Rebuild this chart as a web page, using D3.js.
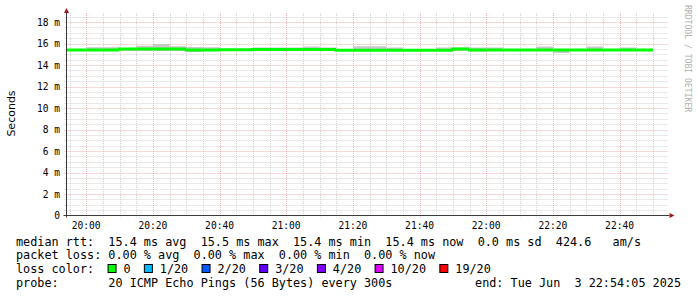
<!DOCTYPE html>
<html>
<head>
<meta charset="utf-8">
<script src="https://cdn.jsdelivr.net/npm/d3@7"></script>
<style>
  body { margin: 0; background: #fff; }
  svg { display: block; }
  text { white-space: pre; }
</style>
</head>
<body>
<svg id="chart"></svg>
<script>
// ---- data ----
const stepMinutes = 5;
const medianMs = [15.4, 15.4, 15.4, 15.4, 15.5, 15.5, 15.5, 15.5, 15.4, 15.4, 15.42, 15.42,
                  15.45, 15.45, 15.45, 15.45, 15.45, 15.38, 15.38, 15.38, 15.38, 15.38, 15.38, 15.38,
                  15.5, 15.4, 15.4, 15.4, 15.4, 15.4, 15.4, 15.4, 15.4, 15.4, 15.4, 15.4];
const smokeHiMs = [15.45, 15.45, 15.65, 15.65, 15.55, 15.8, 15.95, 15.75, 15.68, 15.65, 15.5, 15.5,
                   15.62, 15.62, 15.62, 15.72, 15.62, 15.45, 15.74, 15.74, 15.62, 15.45, 15.45, 15.62,
                   15.62, 15.62, 15.62, 15.45, 15.45, 15.72, 15.45, 15.45, 15.72, 15.45, 15.62, 15.45];
const smokeLoMs = [15.3, 15.3, 15.3, 15.3, 15.3, 15.3, 15.3, 15.3, 15.2, 15.3, 15.3, 15.3,
                   15.3, 15.3, 15.3, 15.3, 15.3, 15.3, 15.3, 15.3, 15.3, 15.3, 15.3, 15.3,
                   15.3, 15.25, 15.3, 15.3, 15.3, 15.3, 15.13, 15.3, 15.3, 15.3, 15.3, 15.3];
const lossCount = new Array(36).fill(0);

const yTicksMs = [0, 2, 4, 6, 8, 10, 12, 14, 16, 18];
const yTickLabels = ["0", "2 m", "4 m", "6 m", "8 m", "10 m", "12 m", "14 m", "16 m", "18 m"];
const xTickLabels = ["20:00", "20:20", "20:40", "21:00", "21:20", "21:40", "22:00", "22:20", "22:40"];

const lossLabels = ["0", "1/20", "2/20", "3/20", "4/20", "10/20", "19/20"];
const lossLevels = [0, 1, 2, 3, 4, 10, 19];
const lossColors = ["#00ff00", "#00b8ff", "#0059ff", "#5e00ff", "#7e00ff", "#dd00ff", "#ff0000"];

const legendLines = [
  "median rtt:  15.4 ms avg  15.5 ms max  15.4 ms min  15.4 ms now  0.0 ms sd  424.6   am/s",
  "packet loss: 0.00 % avg  0.00 % max  0.00 % min  0.00 % now",
  "loss color:",
  "probe:       20 ICMP Echo Pings (56 Bytes) every 300s"
];
const endLabel = "end: Tue Jun  3 22:54:05 2025";

// ---- layout ----
const width = 697, height = 297;
const plot = {left: 66.5, right: 666.5, top: 13, bottom: 215.5};
const mono = "'DejaVu Sans Mono', monospace";

const svg = d3.select("#chart").attr("width", width).attr("height", height);

const startTime = new Date(2025, 5, 3, 19, 54, 5);
const endTime = new Date(2025, 5, 3, 22, 54, 5);
const stepStarts = d3.timeMinute.every(stepMinutes).range(new Date(2025, 5, 3, 19, 50), new Date(2025, 5, 3, 22, 50));

const x = d3.scaleTime().domain([startTime, endTime]).range([plot.left, plot.right]);
const y = d3.scaleLinear().domain([0, 18.84]).range([plot.bottom, plot.top]);

// grid
const minorY = d3.range(0.5, 18.6, 0.5).filter(v => v % 2 !== 0);
const minorX = d3.timeMinute.every(5).range(startTime, endTime).filter(t => t.getMinutes() % 20 !== 0);
const majorX = d3.timeMinute.every(20).range(startTime, endTime);

const grid = svg.append("g").attr("stroke-dasharray", "1,1").attr("stroke-width", 1);
grid.selectAll(".hmin").data(minorY).enter().append("line")
  .attr("x1", plot.left - 2).attr("x2", plot.right + 2)
  .attr("y1", d => Math.round(y(d)) + 0.5).attr("y2", d => Math.round(y(d)) + 0.5)
  .attr("stroke", "#d2d2d2");
grid.selectAll(".vmin").data(minorX).enter().append("line")
  .attr("x1", d => Math.round(x(d)) + 0.5).attr("x2", d => Math.round(x(d)) + 0.5)
  .attr("y1", plot.top).attr("y2", plot.bottom + 2)
  .attr("stroke", "#d2d2d2");
grid.selectAll(".hmaj").data(yTicksMs.slice(1)).enter().append("line")
  .attr("x1", plot.left - 2).attr("x2", plot.right + 2)
  .attr("y1", d => Math.round(y(d)) + 0.5).attr("y2", d => Math.round(y(d)) + 0.5)
  .attr("stroke", "#eab4b4");
grid.selectAll(".vmaj").data(majorX).enter().append("line")
  .attr("x1", d => Math.round(x(d)) + 0.5).attr("x2", d => Math.round(x(d)) + 0.5)
  .attr("y1", plot.top).attr("y2", plot.bottom + 2)
  .attr("stroke", "#eab4b4");

// data points as steps
const steps = stepStarts.map((t, i) => ({
  t0: t, t1: d3.timeMinute.offset(t, stepMinutes),
  med: medianMs[i], hi: smokeHiMs[i], lo: smokeLoMs[i], loss: lossCount[i]
}));
const stepPts = steps.map(s => ({t: s.t0, hi: s.hi, lo: s.lo}));
stepPts.push({t: steps[steps.length - 1].t1, hi: smokeHiMs[steps.length - 1], lo: smokeLoMs[steps.length - 1]});

svg.append("clipPath").attr("id", "clip").append("rect")
  .attr("x", plot.left).attr("y", plot.top)
  .attr("width", plot.right - plot.left).attr("height", plot.bottom - plot.top);

const dataG = svg.append("g").attr("clip-path", "url(#clip)");

// smoke
const smoke = d3.area().curve(d3.curveStepAfter)
  .x(d => x(d.t)).y0(d => y(d.lo)).y1(d => y(d.hi));
dataG.append("path").datum(stepPts).attr("d", smoke).attr("fill", "#c8c8c8");

// median line, coloured by loss
const lossColor = d3.scaleThreshold().domain(lossLevels.slice(1)).range(lossColors);
const seg = d3.line().x(d => x(d.t)).y(d => y(d.v));
dataG.selectAll(".med").data(steps).enter().append("path")
  .attr("d", (s, i) => seg([
    {t: s.t0, v: i > 0 ? steps[i - 1].med : s.med},
    {t: s.t0, v: s.med},
    {t: s.t1, v: s.med}
  ]))
  .attr("fill", "none")
  .attr("stroke", s => lossColor(s.loss))
  .attr("stroke-width", 3);

// axes
const axisColor = "#3a3a3a", arrowColor = "#a01a1a";
svg.append("line").attr("x1", plot.left - 3).attr("x2", plot.right + 3)
  .attr("y1", plot.bottom).attr("y2", plot.bottom).attr("stroke", axisColor);
svg.append("line").attr("x1", plot.left).attr("x2", plot.left)
  .attr("y1", plot.bottom + 2).attr("y2", plot.top - 2).attr("stroke", axisColor);
svg.append("path")
  .attr("d", d3.line()([[plot.left - 2.5, plot.top], [plot.left, plot.top - 5], [plot.left + 2.5, plot.top]]) + "Z")
  .attr("fill", arrowColor);
svg.append("path")
  .attr("d", d3.line()([[plot.right + 3, plot.bottom - 2.5], [plot.right + 8, plot.bottom], [plot.right + 3, plot.bottom + 2.5]]) + "Z")
  .attr("fill", arrowColor);

// tick labels
svg.selectAll(".ylab").data(yTicksMs).enter().append("text")
  .attr("x", 60).attr("y", d => y(d) + 3.5)
  .attr("text-anchor", "end")
  .attr("font-family", mono).attr("font-size", 9.6).attr("fill", "#000")
  .text((d, i) => yTickLabels[i]);
svg.selectAll(".xlab").data(majorX).enter().append("text")
  .attr("x", d => x(d)).attr("y", 228.5)
  .attr("text-anchor", "middle")
  .attr("font-family", mono).attr("font-size", 9.6).attr("fill", "#000")
  .text((d, i) => xTickLabels[i]);

svg.append("text")
  .attr("transform", "translate(14.5,113.5) rotate(-90)")
  .attr("text-anchor", "middle")
  .attr("font-family", "'DejaVu Sans', sans-serif").attr("font-size", 11)
  .text("Seconds");

svg.append("text")
  .attr("transform", "translate(685,5) rotate(90)")
  .attr("font-family", mono).attr("font-size", 8.1).attr("fill", "#b0b0b0")
  .text("RRDTOOL / TOBI OETIKER");

// legend
const charW = 7.12, legendX = 16;
const legendY = [245.5, 259.2, 272.9, 286.6];
svg.selectAll(".leg").data(legendLines).enter().append("text")
  .attr("x", legendX).attr("y", (d, i) => legendY[i])
  .attr("font-family", mono).attr("font-size", 11.8).attr("fill", "#000")
  .text(d => d);
svg.append("text")
  .attr("x", 681).attr("y", legendY[3]).attr("text-anchor", "end")
  .attr("font-family", mono).attr("font-size", 11.8).attr("fill", "#000")
  .text(endLabel);

let col = 13;
const lossItems = lossLabels.map((lab, i) => {
  const item = {lab, color: lossColors[i], boxCol: col, textCol: col + 2.1};
  col = item.textCol + lab.length + 2;
  return item;
});
const lossG = svg.append("g");
lossG.selectAll("rect").data(lossItems).enter().append("rect")
  .attr("x", d => legendX + d.boxCol * charW - 0.5).attr("y", 264.5)
  .attr("width", 8).attr("height", 8)
  .attr("fill", d => d.color).attr("stroke", "#000").attr("stroke-width", 1);
lossG.selectAll("text").data(lossItems).enter().append("text")
  .attr("x", d => legendX + d.textCol * charW).attr("y", legendY[2])
  .attr("font-family", mono).attr("font-size", 11.8).attr("fill", "#000")
  .text(d => d.lab);
</script>
</body>
</html>
